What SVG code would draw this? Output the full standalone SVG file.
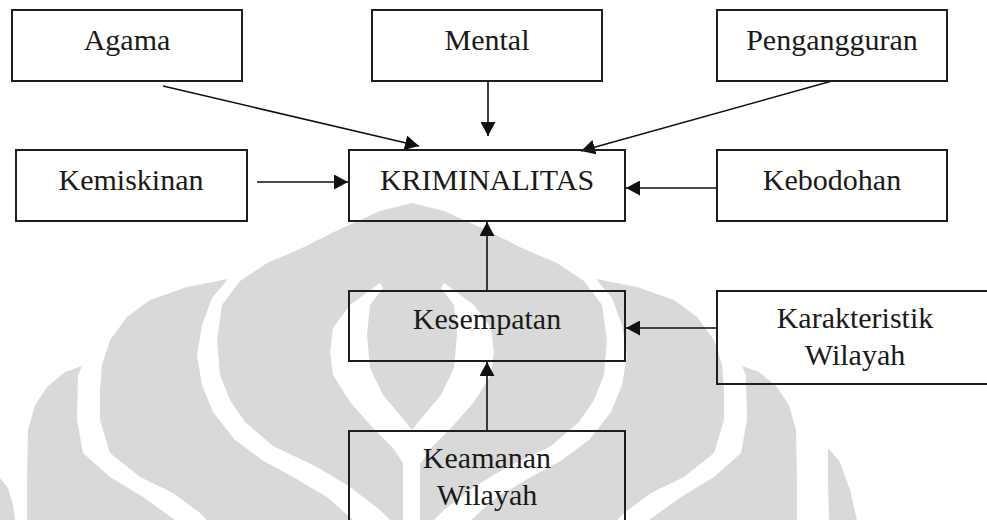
<svg xmlns="http://www.w3.org/2000/svg" xmlns:xlink="http://www.w3.org/1999/xlink" width="987" height="520" viewBox="0 0 987 520">
<style>
.box{fill:none;stroke:#1e1e1e;stroke-width:2}
.lbl{font-family:"Liberation Serif","Times New Roman",serif;font-size:30px;fill:#1a1a1a;text-anchor:middle}
.wm{fill:#d9d9d9}
.wh{fill:#ffffff}
.conn{stroke:#111;stroke-width:1.6;fill:none;marker-end:url(#ah)}
</style>
<defs>
<marker id="ah" markerUnits="userSpaceOnUse" markerWidth="15" markerHeight="15" refX="14" refY="7.5" orient="auto">
<path d="M0,0 L14,7.5 L0,15 Z" fill="#111"/>
</marker>
<path id="wmB" d="M228,279 L212,298 L202,325 L197,355 L202,385 L213,412 L235,440 L262,460 L293,477 L327,497 L353,520 L207,520 L200,513 L173,493 L140,477 L110,453 L100,420 L100,390 L102,365 L110,340 L127,317 L150,300 L187,287 Z"/>
<path id="wmA" d="M82,366 L78,375 L77,420 L83,453 L110,477 L143,497 L175,520 L27,520 L27,480 L28,430 L35,405 L47,387 L65,372 Z"/>
<path id="wmBand" d="M380,283 L350,305 L333,328 L330,352 L333,375 L350,402 L373,428 L393,448 L403,463 L412,466 L412,430 L400,415 L383,395 L370,368 L367,335 L370,305 L383,288 Z"/>
</defs>
<rect x="0" y="0" width="987" height="520" fill="#ffffff"/>
<g id="watermark">
<path class="wm" d="M412,203 L380,211 L340,229 L300,249 L267,263 L240,281 L222,305 L217,340 L220,375 L230,400 L245,422 L273,446 L317,467 L350,487 L380,510 L390,520 L434,520 L444,510 L474,487 L507,467 L551,446 L579,422 L594,400 L604,375 L607,340 L602,305 L584,281 L557,263 L524,249 L484,229 L444,211 Z"/>
<use xlink:href="#wmBand" class="wh"/>
<use xlink:href="#wmBand" class="wh" transform="translate(824,0) scale(-1,1)"/>
<rect class="wh" x="403" y="460" width="17" height="60"/>
<use xlink:href="#wmB" class="wm"/>
<use xlink:href="#wmB" class="wm" transform="translate(824,0) scale(-1,1)"/>
<use xlink:href="#wmA" class="wm"/>
<use xlink:href="#wmA" class="wm" transform="translate(824,0) scale(-1,1)"/>
<path class="wm" d="M0,478 L8,488 L13,505 L15,520 L0,520 Z"/>
<path class="wm" d="M828,448 L840,462 L850,490 L857,520 L829,520 L828,480 Z"/>
</g>
<g id="connectors">
<line class="conn" x1="163" y1="86" x2="419" y2="146"/>
<line class="conn" x1="488" y1="81" x2="488" y2="136"/>
<line class="conn" x1="832" y1="81" x2="581" y2="151"/>
<line class="conn" x1="257" y1="182" x2="348" y2="182"/>
<line class="conn" x1="717" y1="188" x2="626" y2="188"/>
<line class="conn" x1="487" y1="291" x2="487" y2="222"/>
<line class="conn" x1="487" y1="431" x2="487" y2="362"/>
<line class="conn" x1="717" y1="328" x2="626" y2="328"/>
</g>
<g id="node-agama"><rect class="box" x="12" y="10" width="230" height="71"/><text class="lbl" x="127" y="50">Agama</text></g>
<g id="node-mental"><rect class="box" x="372" y="10" width="230" height="71"/><text class="lbl" x="487" y="50">Mental</text></g>
<g id="node-pengangguran"><rect class="box" x="717" y="10" width="230" height="71"/><text class="lbl" x="832" y="50">Pengangguran</text></g>
<g id="node-kemiskinan"><rect class="box" x="16" y="150" width="231" height="71"/><text class="lbl" x="131" y="190">Kemiskinan</text></g>
<g id="node-kriminalitas"><rect class="box" x="349" y="150" width="276" height="71"/><text class="lbl" x="487" y="190">KRIMINALITAS</text></g>
<g id="node-kebodohan"><rect class="box" x="717" y="150" width="230" height="71"/><text class="lbl" x="832" y="190">Kebodohan</text></g>
<g id="node-kesempatan"><rect class="box" x="349" y="291" width="276" height="70"/><text class="lbl" x="487" y="329">Kesempatan</text></g>
<g id="node-karakteristik"><rect class="box" x="717" y="291" width="280" height="93"/><text class="lbl" x="855" y="328">Karakteristik</text><text class="lbl" x="855" y="365">Wilayah</text></g>
<g id="node-keamanan"><rect class="box" x="349" y="431" width="276" height="100"/><text class="lbl" x="487" y="468">Keamanan</text><text class="lbl" x="487" y="505">Wilayah</text></g>
</svg>
